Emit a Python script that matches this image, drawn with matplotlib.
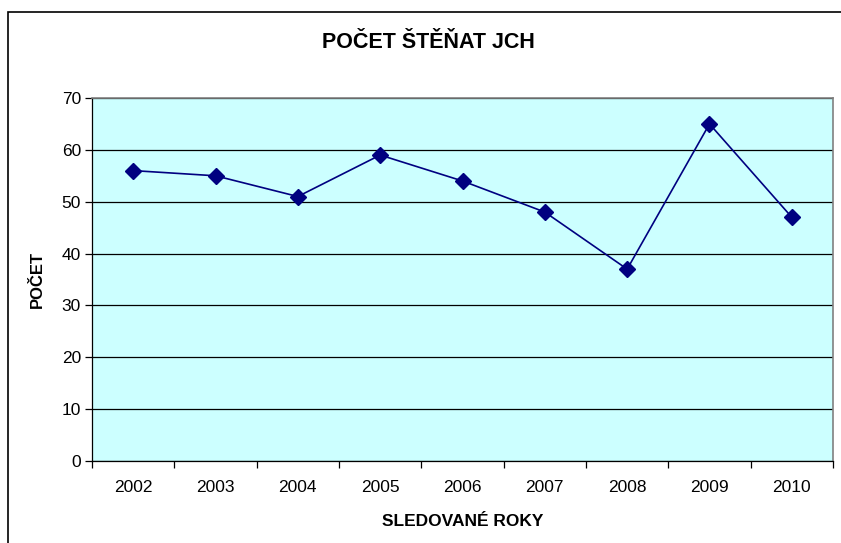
import matplotlib
matplotlib.use("Agg")
import matplotlib.pyplot as plt
from matplotlib.patches import Rectangle

# data
years = ["2002", "2003", "2004", "2005", "2006", "2007", "2008", "2009", "2010"]
counts = [56, 55, 51, 59, 54, 48, 37, 65, 47]
y_ticks = [0, 10, 20, 30, 40, 50, 60, 70]

plt.rcParams['font.family'] = ['Liberation Sans', 'DejaVu Sans']

W, H = 841, 543
fig = plt.figure(figsize=(W / 100, H / 100), dpi=100)

# outer chart frame (runs off right and bottom edge)
fig.patches.append(Rectangle((8 / W, 0 - 0.05), 1.0, 1 - 12 / H + 0.05,
                             transform=fig.transFigure, fill=False,
                             edgecolor='black', linewidth=1.2))

ax = fig.add_axes([92 / W, 1 - 461 / H, 741 / W, 363 / H])
ax.set_facecolor('#CCFFFF')

x = list(range(len(years)))
ax.plot(x, counts, color='#000080', linewidth=1.2, marker='D',
        markersize=8, markerfacecolor='#000080', markeredgecolor='#000080',
        zorder=3)

ax.set_xlim(-0.5, len(years) - 0.5)
ax.set_ylim(0, 70)
ax.set_yticks(y_ticks)
ax.yaxis.grid(True, color='black', linewidth=0.9)
ax.set_axisbelow(True)

# category labels centred, tick marks between categories
ax.set_xticks(x)
ax.set_xticklabels(years, fontsize=12.5)
ax.set_xticks([i - 0.5 for i in range(len(years) + 1)], minor=True)
ax.tick_params(axis='x', which='major', length=0, pad=14)
ax.tick_params(axis='x', which='minor', length=5, width=0.9, direction='out')
ax.tick_params(axis='y', length=5, width=0.9, labelsize=12.5, pad=3)

for s in ['top', 'right']:
    ax.spines[s].set_color('#808080')
    ax.spines[s].set_linewidth(1.2)
for s in ['left', 'bottom']:
    ax.spines[s].set_color('black')
    ax.spines[s].set_linewidth(0.9)

fig.text(428 / W, 1 - 42 / H, "POČET ŠTĚŇAT JCH", ha='center', va='center',
         fontsize=15.5, fontweight='bold')
ax.set_xlabel("SLEDOVANÉ ROKY", fontsize=12.5, fontweight='bold', labelpad=13)
ax.set_ylabel("POČET", fontsize=12, fontweight='bold', labelpad=12)

fig.savefig("out.png", dpi=100)
